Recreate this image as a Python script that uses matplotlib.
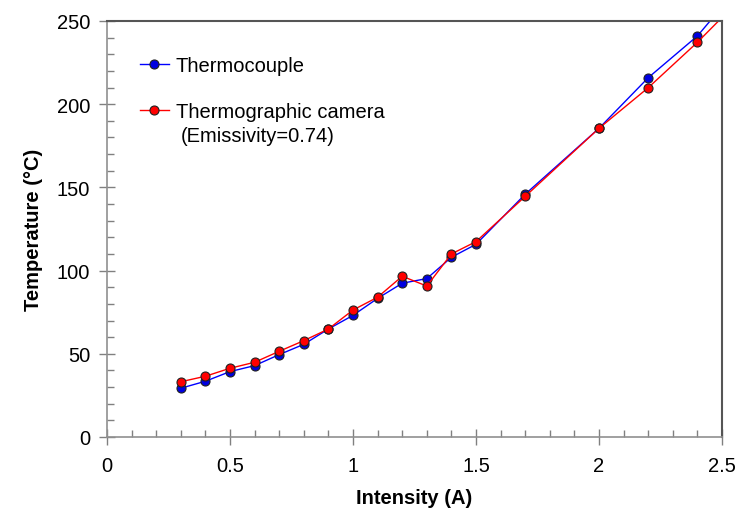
import matplotlib
matplotlib.use("Agg")
import matplotlib.pyplot as plt
from matplotlib.ticker import MultipleLocator

plt.rcParams['font.family'] = ['Liberation Sans', 'DejaVu Sans']

intensity = [0.3, 0.4, 0.5, 0.6, 0.7, 0.8, 0.9, 1.0, 1.1, 1.2, 1.3, 1.4, 1.5, 1.7, 2.0, 2.2, 2.4, 2.6]
thermocouple = [29.3, 33.5, 39.3, 42.9, 49.5, 55.7, 64.9, 73.1, 83.3, 92.4, 95.2, 108.0, 115.8, 145.9, 185.5, 215.9, 241.0, 276.0]
camera = [33.2, 36.5, 41.3, 44.9, 51.5, 57.9, 64.9, 76.3, 84.0, 96.6, 90.7, 110.0, 117.4, 144.6, 185.5, 209.9, 237.2, 267.0]

fig = plt.figure(figsize=(7.36, 5.10), dpi=100)
ax = fig.add_axes([0.1454, 0.1412, 0.981 - 0.1454, 0.9569 - 0.1412])

ax.plot(intensity, thermocouple, color='#0000ff', lw=1.0, marker='o', ms=6.5,
        mfc='#0000e0', mec='#202020', mew=0.8, label='Thermocouple')
ax.plot(intensity, camera, color='#ff0000', lw=1.0, marker='o', ms=6.5,
        mfc='#ff0000', mec='#202020', mew=0.8,
        label='Thermographic camera')

ax.set_xlim(0, 2.5)
ax.set_ylim(0, 250)
ax.set_xticks([0, 0.5, 1, 1.5, 2, 2.5])
ax.set_xticklabels(['0', '0.5', '1', '1.5', '2', '2.5'])
ax.set_yticks([0, 50, 100, 150, 200, 250])
ax.xaxis.set_minor_locator(MultipleLocator(0.1))
ax.yaxis.set_minor_locator(MultipleLocator(10))

ax.tick_params(which='major', direction='inout', length=12, width=1, color='#808080',
               labelsize=14.5, pad=6, labelcolor='black')
ax.tick_params(which='minor', direction='in', length=5, width=1, color='#808080')
ax.tick_params(axis='x', which='major', pad=8)

for s in ['left', 'bottom']:
    ax.spines[s].set_color('#909090')
    ax.spines[s].set_linewidth(1.2)
for s in ['top', 'right']:
    ax.spines[s].set_color('#555555')
    ax.spines[s].set_linewidth(1.5)

ax.set_xlabel('Intensity (A)', fontsize=14.5, fontweight='bold', labelpad=9)
ax.set_ylabel('Temperature (\u00b0C)', fontsize=14.5, fontweight='bold', labelpad=10)

ax.legend(loc='upper left', bbox_to_anchor=(0.04, 0.935), frameon=False, fontsize=14.5,
          handlelength=1.45, handletextpad=0.35, labelspacing=1.35, borderaxespad=0)

# second line of the camera legend label, placed in figure pixel coordinates
ax.text(181, 510 - 137, '(Emissivity=0.74)', transform=None, fontsize=14.5,
        va='center', ha='left')

fig.savefig('out.png', dpi=100)
